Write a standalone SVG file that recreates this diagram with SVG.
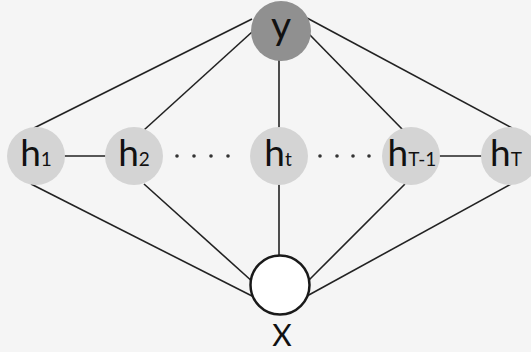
<svg xmlns="http://www.w3.org/2000/svg" width="531" height="352" viewBox="0 0 531 352">
<style>
.edge{stroke:#222;stroke-width:1.6;fill:none}
.h{fill:#d4d4d4}
.lbl{font-family:Lato,"Open Sans","DejaVu Sans",sans-serif;fill:#111;text-anchor:middle}
.hl{font-size:37px}
.sub{font-size:19px}
.dot{fill:#333}
</style>
<rect width="531" height="352" fill="#f5f5f5"/>
<g id="connectors">
<line class="edge" x1="252" y1="19" x2="34" y2="128"/>
<line class="edge" x1="252" y1="32" x2="144" y2="130"/>
<line class="edge" x1="279" y1="58" x2="279" y2="130"/>
<line class="edge" x1="309" y1="34" x2="403" y2="130"/>
<line class="edge" x1="307" y1="18" x2="512" y2="128"/>
<line class="edge" x1="31" y1="184" x2="254" y2="297"/>
<line class="edge" x1="144" y1="184" x2="254" y2="283"/>
<line class="edge" x1="279" y1="182" x2="279" y2="258"/>
<line class="edge" x1="405" y1="184" x2="307" y2="282"/>
<line class="edge" x1="511" y1="184" x2="307" y2="296"/>
<line class="edge" x1="62" y1="156" x2="107" y2="156"/>
<line class="edge" x1="438" y1="156" x2="484" y2="156"/>
<circle class="dot" cx="177" cy="156" r="1.8"/>
<circle class="dot" cx="194" cy="156" r="1.8"/>
<circle class="dot" cx="211" cy="156" r="1.8"/>
<circle class="dot" cx="228" cy="156" r="1.8"/>
<circle class="dot" cx="320" cy="156" r="1.8"/>
<circle class="dot" cx="337" cy="156" r="1.8"/>
<circle class="dot" cx="353" cy="156" r="1.8"/>
<circle class="dot" cx="369" cy="156" r="1.8"/>
</g>
<g id="node-y">
<circle cx="281" cy="31" r="30" fill="#909090"/>
<text class="lbl" x="281" y="39" font-size="39">y</text>
</g>
<g id="node-h1">
<circle class="h" cx="36" cy="156" r="29"/>
<text class="lbl hl" x="36" y="166">h<tspan class="sub">1</tspan></text>
</g>
<g id="node-h2">
<circle class="h" cx="134" cy="156" r="29"/>
<text class="lbl hl" x="134" y="166">h<tspan class="sub">2</tspan></text>
</g>
<g id="node-ht">
<circle class="h" cx="279" cy="156" r="29"/>
<text class="lbl hl" x="278" y="166">h<tspan class="sub">t</tspan></text>
</g>
<g id="node-hT-1">
<circle class="h" cx="411" cy="156" r="29"/>
<text class="lbl hl" x="412" y="166">h<tspan class="sub">T-1</tspan></text>
</g>
<g id="node-hT">
<circle class="h" cx="510" cy="156" r="29"/>
<text class="lbl hl" x="506" y="166">h<tspan class="sub">T</tspan></text>
</g>
<g id="node-x">
<circle cx="280" cy="285" r="29.5" fill="#fff" stroke="#1a1a1a" stroke-width="2.5"/>
<text class="lbl" x="282" y="346" font-size="30">X</text>
</g>
</svg>
